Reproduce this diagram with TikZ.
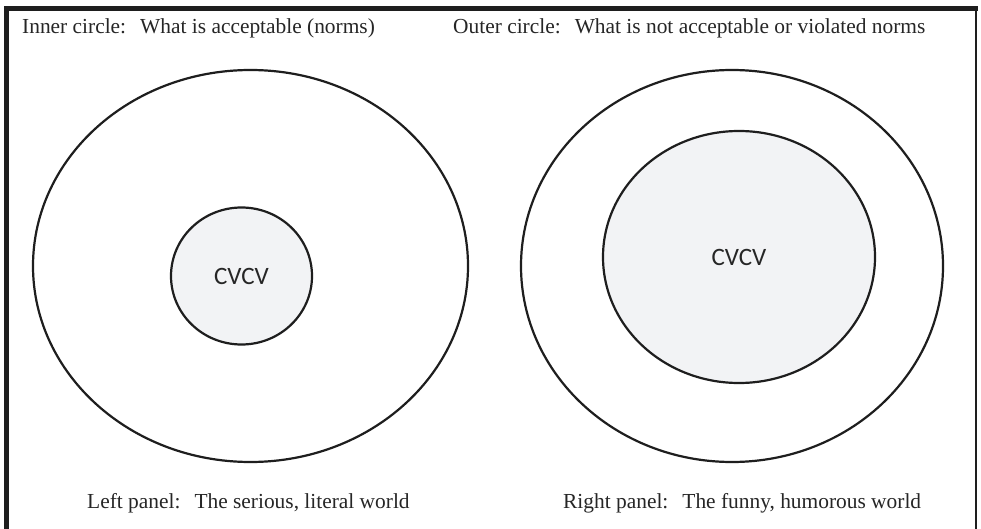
\documentclass[tikz,border=0pt]{standalone}
\usepackage{fontspec}
\setmainfont{Liberation Serif}
\newfontfamily\cvfont{Carlito}
\usetikzlibrary{shapes.geometric}
\definecolor{ink}{HTML}{1E1E1E}
\definecolor{txt}{HTML}{262626}
\definecolor{innerfill}{HTML}{F2F3F5}
\newcommand{\gapsp}{\hspace{14pt}}
\tikzset{
  outerring/.style={draw=ink, line width=2.2pt, ellipse, inner sep=0pt, fill=white},
  innerring/.style={draw=ink, line width=2.2pt, ellipse, inner sep=0pt, fill=innerfill,
     font=\cvfont\fontsize{25}{30}\selectfont, text=txt},
  caption/.style={anchor=base west, inner sep=0pt, text=txt, font=\fontsize{21.4}{25}\selectfont}
}
\begin{document}
\begin{tikzpicture}[x=1pt,y=-1pt]
\useasboundingbox (0,0) rectangle (981,529);
\fill[white] (0,0) rectangle (981,529);
% frame
\draw[ink, line width=5pt] (6.5,529) -- (6.5,8.5) -- (978,8.5);
\draw[ink, line width=1.8pt] (976,8.5) -- (976,529);
% captions
\node[caption] (tl) at (22,34) {Inner circle:\gapsp What is acceptable (norms)};
\node[caption] (tr) at (453,34) {Outer circle:\gapsp What is not acceptable or violated norms};
\node[caption] (bl) at (87,508) {Left panel:\gapsp The serious, literal world};
\node[caption] (br) at (563,508) {Right panel:\gapsp The funny, humorous world};
% left panel
\node[outerring, minimum width=435pt, minimum height=392pt] (lo) at (250.5,266) {};
\node[innerring, minimum width=141pt, minimum height=137pt] (li) at (241.5,276) {CVCV};
% right panel
\node[outerring, minimum width=422pt, minimum height=392pt] (ro) at (732,266) {};
\node[innerring, minimum width=272pt, minimum height=252pt] (ri) at (739,257) {CVCV};
\end{tikzpicture}
\end{document}
